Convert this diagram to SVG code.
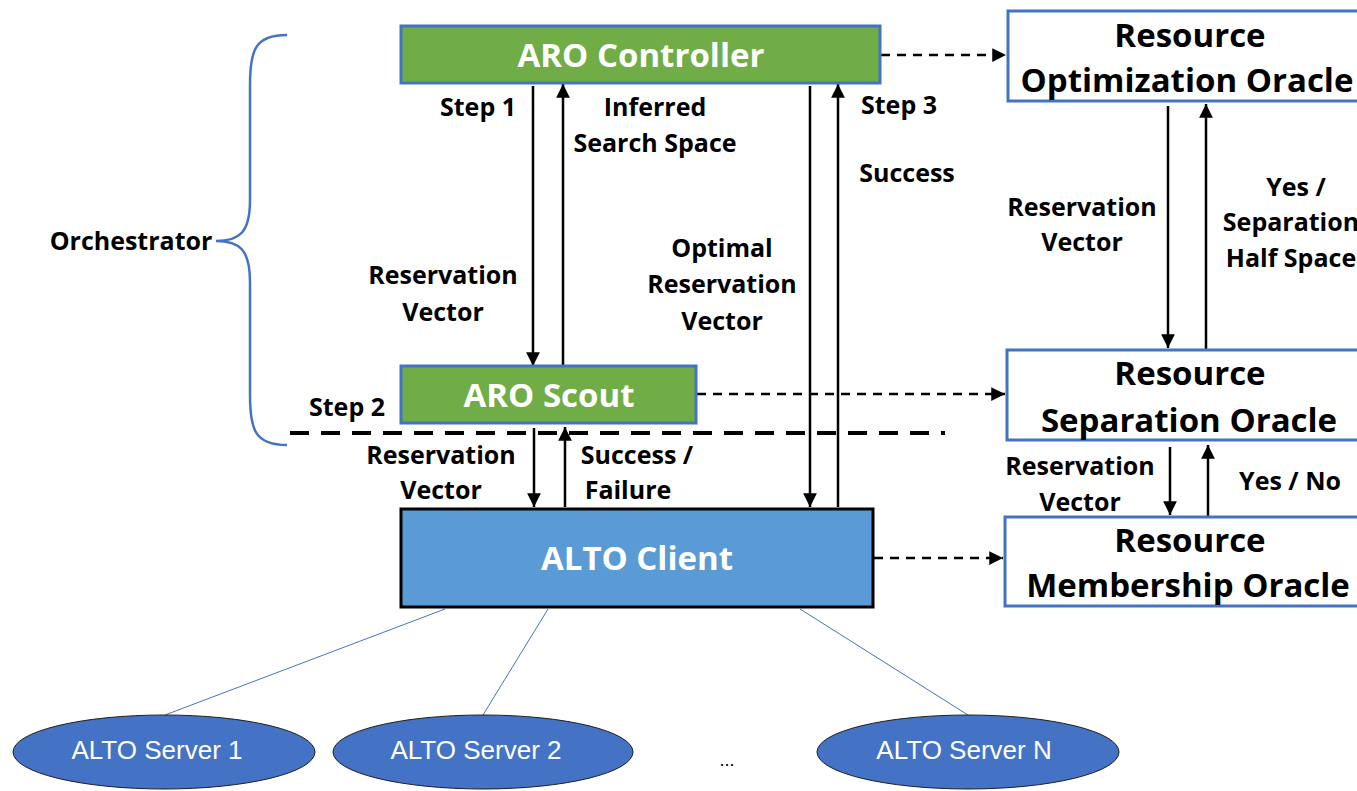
<svg xmlns="http://www.w3.org/2000/svg" width="1357" height="791" viewBox="0 0 1357 791">
  <style>
    .lbl { font-family: "Open Sans", "Liberation Sans", sans-serif; font-weight: 700; font-size: 25px; fill: #000; text-anchor: middle; }
    .title { font-family: "Open Sans", "Liberation Sans", sans-serif; font-weight: 700; font-size: 33px; text-anchor: middle; }
    .white { fill: #fff; }
    .black { fill: #000; }
    .green { fill: #70AD47; stroke: #4472C4; stroke-width: 3; }
    .oracle { fill: #fff; stroke: #4472C4; stroke-width: 3; }
    .client { fill: #5B9BD5; stroke: #000; stroke-width: 3; }
    .server { fill: #4472C4; stroke: #1f1f1f; stroke-width: 1; }
    .srvtxt { font-family: "Liberation Sans", Arial, sans-serif; font-size: 26px; fill: #fff; text-anchor: middle; }
    .solid { stroke: #000; stroke-width: 2.5; fill: none; marker-end: url(#ah); }
    .dash { stroke: #000; stroke-width: 2.5; fill: none; stroke-dasharray: 9 7; marker-end: url(#ah); }
    .thin { stroke: #4472C4; stroke-width: 1; fill: none; }
  </style>
  <defs>
    <marker id="ah" viewBox="0 0 10 10" refX="10" refY="5" markerWidth="5.5" markerHeight="5.5" orient="auto" markerUnits="strokeWidth">
      <path d="M0,0 L10,5 L0,10 z" fill="#000"/>
    </marker>
  </defs>

  <rect width="1357" height="791" fill="#fff"/>

  <!-- connectors -->
  <g id="connectors">
    <!-- controller <-> scout -->
    <line class="solid" x1="533" y1="86" x2="533" y2="366"/>
    <line class="solid" x1="563" y1="366" x2="563" y2="84"/>
    <!-- controller <-> client -->
    <line class="solid" x1="810" y1="86" x2="810" y2="507"/>
    <line class="solid" x1="838" y1="507" x2="838" y2="84"/>
    <!-- scout <-> client -->
    <line class="solid" x1="534" y1="428" x2="534" y2="507"/>
    <line class="solid" x1="565" y1="507" x2="565" y2="427"/>
    <!-- oracle chain -->
    <line class="solid" x1="1168" y1="106" x2="1168" y2="348"/>
    <line class="solid" x1="1206" y1="350" x2="1206" y2="104"/>
    <line class="solid" x1="1170" y1="447" x2="1170" y2="515"/>
    <line class="solid" x1="1208" y1="517" x2="1208" y2="445"/>
    <!-- dashed links to oracles -->
    <line class="dash" x1="881" y1="55" x2="1006" y2="55"/>
    <line class="dash" x1="697" y1="394" x2="1005" y2="394"/>
    <line class="dash" x1="874" y1="558" x2="1003" y2="558"/>
    <!-- boundary line -->
    <line x1="290" y1="433" x2="945" y2="433" stroke="#000" stroke-width="4" stroke-dasharray="19 12"/>
    <!-- client to servers -->
    <line class="thin" x1="445" y1="609" x2="165" y2="715"/>
    <line class="thin" x1="548" y1="609" x2="483" y2="715"/>
    <line class="thin" x1="800" y1="609" x2="968" y2="715"/>
    <!-- orchestrator brace -->
    <path d="M287,35 C255,35 250,50 250,85 L250,200 C250,232 240,241 216,241 C240,241 250,250 250,282 L250,395 C250,430 255,445 287,445" fill="none" stroke="#4472C4" stroke-width="2.5"/>
  </g>

  <g id="aro-controller">
    <rect class="green" x="401" y="26" width="479" height="57"/>
    <text class="title white" x="641" y="67">ARO Controller</text>
  </g>

  <g id="aro-scout">
    <rect class="green" x="401" y="366" width="295" height="57"/>
    <text class="title white" x="549" y="407">ARO Scout</text>
  </g>

  <g id="alto-client">
    <rect class="client" x="401" y="509" width="472" height="98"/>
    <text class="title white" x="637" y="570">ALTO Client</text>
  </g>

  <g id="optimization-oracle">
    <rect class="oracle" x="1008" y="11" width="360" height="90"/>
    <text class="title black" x="1190" y="47">Resource</text>
    <text class="title black" x="1187" y="92">Optimization Oracle</text>
  </g>

  <g id="separation-oracle">
    <rect class="oracle" x="1007" y="350" width="360" height="90"/>
    <text class="title black" x="1190" y="385">Resource</text>
    <text class="title black" x="1189" y="432">Separation Oracle</text>
  </g>

  <g id="membership-oracle">
    <rect class="oracle" x="1005" y="517" width="362" height="89"/>
    <text class="title black" x="1190" y="552">Resource</text>
    <text class="title black" x="1188" y="597">Membership Oracle</text>
  </g>

  <g id="alto-server-1">
    <ellipse class="server" cx="164" cy="752" rx="151" ry="37"/>
    <text class="srvtxt" x="157" y="759">ALTO Server 1</text>
  </g>
  <g id="alto-server-2">
    <ellipse class="server" cx="483" cy="752" rx="150" ry="37"/>
    <text class="srvtxt" x="476" y="759">ALTO Server 2</text>
  </g>
  <g id="alto-server-n">
    <ellipse class="server" cx="968" cy="752" rx="151" ry="37"/>
    <text class="srvtxt" x="964" y="759">ALTO Server N</text>
  </g>
  <text x="727" y="766" font-family="Liberation Sans, sans-serif" font-size="18" text-anchor="middle" fill="#000">...</text>

  <!-- labels -->
  <g id="labels">
    <text class="lbl" x="131" y="250">Orchestrator</text>
    <text class="lbl" x="478" y="116">Step 1</text>
    <text class="lbl" x="655" y="116">Inferred</text>
    <text class="lbl" x="655" y="152">Search Space</text>
    <text class="lbl" x="899" y="114">Step 3</text>
    <text class="lbl" x="907" y="182">Success</text>
    <text class="lbl" x="443" y="284">Reservation</text>
    <text class="lbl" x="443" y="321">Vector</text>
    <text class="lbl" x="722" y="257">Optimal</text>
    <text class="lbl" x="722" y="293">Reservation</text>
    <text class="lbl" x="722" y="330">Vector</text>
    <text class="lbl" x="347" y="416">Step 2</text>
    <text class="lbl" x="441" y="464">Reservation</text>
    <text class="lbl" x="441" y="499">Vector</text>
    <text class="lbl" x="637" y="464">Success /</text>
    <text class="lbl" x="628" y="499">Failure</text>
    <text class="lbl" x="1082" y="216">Reservation</text>
    <text class="lbl" x="1082" y="251">Vector</text>
    <text class="lbl" x="1296" y="196">Yes /</text>
    <text class="lbl" x="1291" y="231">Separation</text>
    <text class="lbl" x="1291" y="267">Half Space</text>
    <text class="lbl" x="1080" y="475">Reservation</text>
    <text class="lbl" x="1080" y="511">Vector</text>
    <text class="lbl" x="1290" y="490">Yes / No</text>
  </g>
</svg>
